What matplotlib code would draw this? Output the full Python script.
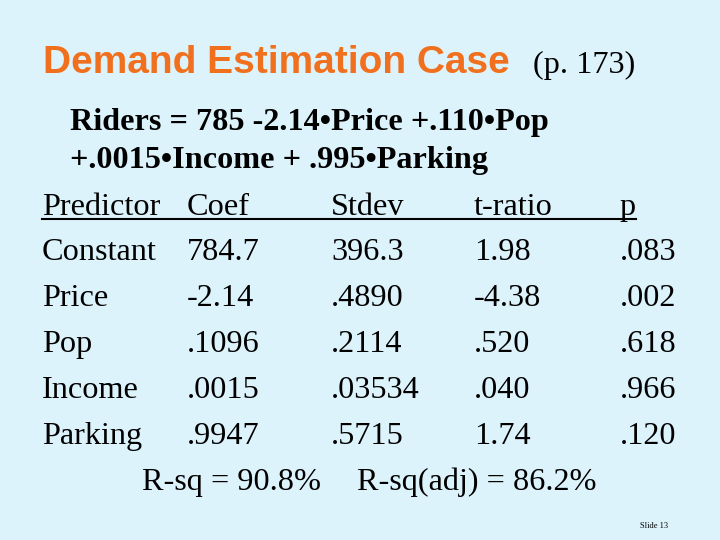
import matplotlib
matplotlib.use("Agg")
import matplotlib.pyplot as plt

headers = ["Predictor", "Coef", "Stdev", "t-ratio", "p"]
predictors = ["Constant", "Price", "Pop", "Income", "Parking"]
coef = ["784.7", "-2.14", ".1096", ".0015", ".9947"]
stdev = ["396.3", ".4890", ".2114", ".03534", ".5715"]
tratio = ["1.98", "-4.38", ".520", ".040", "1.74"]
pval = [".083", ".002", ".618", ".966", ".120"]

W, H = 720, 540
fig = plt.figure(figsize=(7.2, 5.4), dpi=100)
fig.patch.set_facecolor("#DDF3FC")

def T(x, y, s, **kw):
    fig.text(x / W, 1 - y / H, s, va="baseline", **kw)

serif = "Liberation Serif"
fs = 23.2
T(43, 73, "Demand Estimation Case", family="Liberation Sans", weight="bold",
  fontsize=28, color="#F0701E")
T(533, 73, "(p. 173)", family=serif, fontsize=fs, color="black")
T(70, 130, "Riders = 785 -2.14\u2022Price +.110\u2022Pop", family=serif,
  weight="bold", fontsize=fs)
T(70, 168, "+.0015\u2022Income + .995\u2022Parking", family=serif,
  weight="bold", fontsize=fs)

cols = [42, 187, 331, 474, 620]
for x, h in zip(cols, headers):
    T(x, 215, h, family=serif, fontsize=fs)
fig.add_artist(plt.Line2D([42 / W, 636 / W], [1 - 219 / H, 1 - 219 / H],
                          color="black", lw=1.5))
for i, row in enumerate(zip(predictors, coef, stdev, tratio, pval)):
    y = 260 + 46 * i
    for x, s in zip(cols, row):
        T(x, y, s, family=serif, fontsize=fs)

T(142, 490, "R-sq = 90.8%", family=serif, fontsize=fs)
T(357, 490, "R-sq(adj) = 86.2%", family=serif, fontsize=fs)
T(640, 528, "Slide 13", family=serif, fontsize=6)

fig.savefig("out.png", dpi=100, facecolor=fig.get_facecolor())
